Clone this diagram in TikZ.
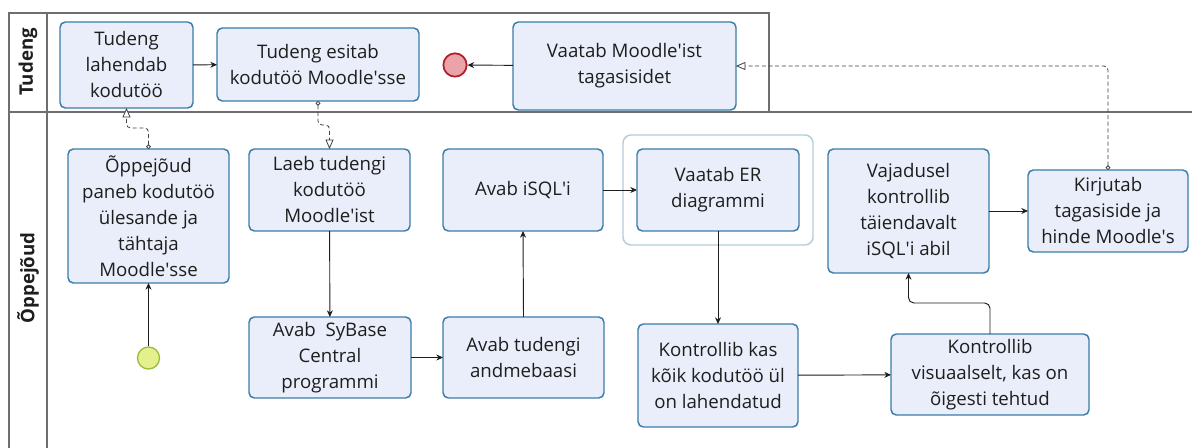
\documentclass[tikz,border=0pt]{standalone}
\usepackage{fontspec}
\setmainfont{Open Sans}
\usetikzlibrary{arrows.meta}
\definecolor{taskfill}{HTML}{E9EEFA}
\definecolor{taskline}{HTML}{3B7DA8}
\definecolor{laneline}{HTML}{6E6E6E}
\definecolor{groupline}{HTML}{B4CDD8}
\definecolor{startfill}{HTML}{E4F08C}
\definecolor{startline}{HTML}{98BE3C}
\definecolor{endfill}{HTML}{EBA2A8}
\definecolor{endline}{HTML}{AE1F28}
\definecolor{ink}{HTML}{1E1E1E}
\newcommand\ap{\textquotesingle}
% task box given by its corners in pixel units
\newcommand\taskat[6]{\node[task, minimum width={(#4-#2)*0.75pt}, minimum height={(#5-#3)*0.75pt}] (#1) at ({(#2+#4)/2},{(#3+#5)/2}) {#6};}
\begin{document}
\begin{tikzpicture}[x=0.75pt,y=-0.75pt,
  every node/.style={font=\fontsize{14}{19.5}\selectfont, text=ink},
  task/.style={draw=taskline, fill=taskfill, line width=1.1pt, rounded corners=4pt,
    align=center, inner sep=0pt, outer sep=0pt},
  lanestyle/.style={draw=laneline, line width=1.1pt},
  flow/.style={draw=ink, line width=0.7pt, -{Stealth[length=5pt,width=4.5pt]}},
  msg/.style={draw=ink!85, line width=0.6pt, dash pattern=on 3pt off 2pt, rounded corners=3pt,
    {Circle[open,length=3.5pt,width=3.5pt,fill=white]}-{Triangle[open,length=7pt,width=6pt,fill=white]}},
  lanelabel/.style={rotate=90, font=\fontsize{14}{16}\selectfont\bfseries}]
\useasboundingbox (0,0) rectangle (1192,448);
\fill[white] (0,0) rectangle (1192,448);

% pool and lanes
\draw[lanestyle] (9,448) -- (9,13) -- (769,13) -- (769,112);
\draw[lanestyle] (9,112) -- (1192,112);
\draw[lanestyle] (47,13) -- (47,448);
\node[lanelabel] (laneA) at (28,62) {Tudeng};
\node[lanelabel] (laneB) at (28,278) {Õppejõud};

% group around the ER review
\draw[groupline, line width=1.1pt, rounded corners=6pt] (623,135) rectangle (813,245);

% tasks, upper lane
\taskat{T1}{60}{22}{193}{108}{Tudeng\\lahendab\\kodutöö}
\taskat{T2}{217}{28}{419}{101}{Tudeng esitab\\kodutöö Moodle\ap sse}
\taskat{T3}{513}{22}{736}{110}{Vaatab Moodle\ap ist\\tagasisidet}

% tasks, lower lane
\taskat{L1}{68}{149}{229}{283}{Õppejõud\\paneb kodutöö\\ülesande ja\\tähtaja\\Moodle\ap sse}
\taskat{L4}{249}{149}{410}{231}{Laeb tudengi\\kodutöö\\Moodle\ap ist}
\taskat{L5}{443}{149}{603}{231}{Avab iSQL\ap i}
\taskat{L6}{637}{149}{799}{231}{Vaatab ER\\diagrammi}
\taskat{L7}{828}{149}{989}{273}{Vajadusel\\kontrollib\\täiendavalt\\iSQL\ap i abil}
\taskat{L8}{1028}{170}{1188}{252}{Kirjutab\\tagasiside ja\\hinde Moodle\ap s}
\taskat{L2}{249}{317}{411}{398}{Avab\ \ SyBase\\Central\\programmi}
\taskat{L3}{443}{317}{604}{398}{Avab tudengi\\andmebaasi}
\taskat{L9}{638}{324}{798}{427}{Kontrollib kas\\kõik kodutöö ül\\on lahendatud}
\taskat{L10}{891}{334}{1089}{415}{Kontrollib\\visuaalselt, kas on\\õigesti tehtud}

% events
\node[circle, draw=startline, fill=startfill, line width=1pt, minimum size=16.5pt, inner sep=0pt] (start) at (148.5,358) {};
\node[circle, draw=endline, fill=endfill, line width=1.3pt, minimum size=17.5pt, inner sep=0pt] (end) at (455,65) {};

% sequence flows
\draw[flow] (start) -- (L1);
\draw[flow] (T1) -- (T2);
\draw[flow] (T3) -- (end);
\draw[flow] (L4) -- (L2);
\draw[flow] (L2) -- (L3);
\draw[flow] (L3.north) -- (L5.south);
\draw[flow] (L5) -- (L6);
\draw[flow] (L6) -- (L9);
\draw[flow] (L9) -- (L10);
\draw[flow, rounded corners=4pt] (L10.north) -- ++(0,-31) -| (L7.south);
\draw[flow] (L7) -- (L8);

% message flows
\draw[msg] (L1.north) -- ++(0,-21) -| (T1.south);
\draw[msg] (T2.south) -- ++(0,24) -| (L4.north);
\draw[msg] (L8.north) |- (T3.east);
\end{tikzpicture}
\end{document}
